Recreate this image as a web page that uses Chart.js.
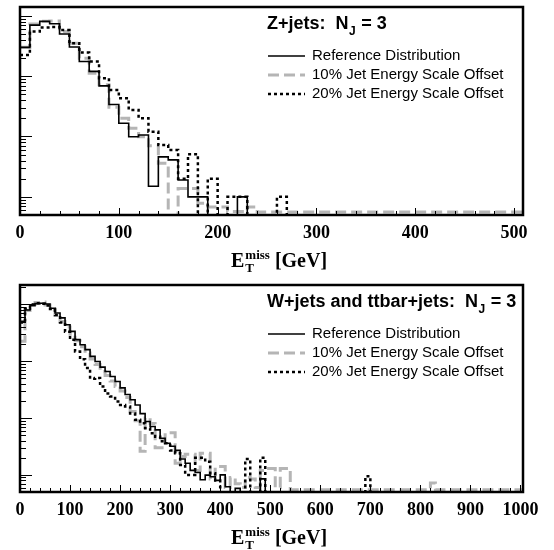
<!DOCTYPE html>
<html>
<head>
<meta charset="utf-8">
<script src="https://cdn.jsdelivr.net/npm/chart.js@4.4.0/dist/chart.umd.min.js"></script>
<style>
  body { margin: 0; background: #fff; width: 554px; height: 550px; overflow: hidden; }
  .panel { position: absolute; left: 0; width: 554px; }
</style>
</head>
<body>
<div class="panel" style="top:0;height:278px"><canvas id="zChart"></canvas></div>
<div class="panel" style="top:278px;height:272px"><canvas id="wChart"></canvas></div>
<script>
const binWidth = 10; // GeV
const zTicks = [0, 100, 200, 300, 400, 500];
const wTicks = [0, 100, 200, 300, 400, 500, 600, 700, 800, 900, 1000];
const legendLabels = ['Reference Distribution', '10% Jet Energy Scale Offset', '20% Jet Energy Scale Offset'];

// Z+jets, 10 GeV bins from 0 to 510
const zRef = [300, 700, 810, 740, 500, 305, 175, 120, 69, 34,
  16.6, 9.9, 10.6, 1.5, 4.6, 4.1, 1.9, 1.0, 1.0, 0,
  0, 0, 1.0, 0, 0, 0, 0, 0, 0, 0,
  0, 0, 0, 0, 0, 0, 0, 0, 0, 0,
  0, 0, 0, 0, 0, 0, 0, 0, 0, 0, 0];
const zJes10 = [300, 730, 810, 820, 550, 352, 198, 112, 72, 30.5,
  20, 13.7, 9.9, 7.0, 3.6, 0, 1.38, 1.38, 0.78, 0.68,
  0.68, 0.57, 0.57, 0.68, 0.56, 0.56, 0.56, 0.56, 0.56, 0.56,
  0.56, 0.56, 0.56, 0.56, 0.56, 0.56, 0.56, 0.56, 0.56, 0.56,
  0.56, 0.56, 0.56, 0.56, 0.56, 0.56, 0.56, 0.56, 0.56, 0.56, 0.56];
const zJes20 = [225, 550, 640, 650, 580, 352, 246, 175, 92, 59,
  43, 27.6, 20, 12, 7.2, 6.0, 2.0, 5.1, 0, 2.0,
  0, 1.0, 1.0, 0, 0, 0, 1.0, 0, 0, 0,
  0, 0, 0, 0, 0, 0, 0, 0, 0, 0,
  0, 0, 0, 0, 0, 0, 0, 0, 0, 0, 0];

// W+jets and ttbar+jets, 10 GeV bins from 0 to 1010
const wRef = [505, 800, 950, 1035, 1050, 1020, 860, 708, 580, 440,
  336, 240, 195, 160, 122, 99, 79, 66, 54, 44,
  34, 26, 21, 17, 12, 8.7, 7.1, 6.2, 4.4, 3.6,
  3.2, 2.7, 1.9, 1.6, 1.2, 1.1, 0.82, 0.99, 0.93, 0.8,
  1.0, 0.62, 0, 0.58, 0, 0, 0, 0, 0.85, 0,
  0, 0, 0, 0, 0, 0, 0, 0, 0, 0,
  0, 0, 0, 0, 0, 0, 0, 0, 0, 0,
  0, 0, 0, 0, 0, 0, 0, 0, 0, 0,
  0, 0, 0, 0, 0, 0, 0, 0, 0, 0,
  0, 0, 0, 0, 0, 0, 0, 0, 0, 0, 0];
const wJes10 = [224, 780, 1000, 1080, 1100, 980, 800, 640, 500, 400,
  300, 230, 180, 140, 110, 88, 66, 56, 45, 36,
  30, 23, 13, 9, 2.6, 10, 8, 3.0, 3.0, 5.5,
  5.5, 1.6, 2.1, 2.3, 2.3, 1.2, 2.4, 2.4, 0.85, 1.4,
  1.4, 0.6, 0.9, 0.7, 0.6, 0.9, 0.85, 0.6, 1.2, 1.3,
  1.3, 0.6, 1.3, 1.3, 0.55, 0.55, 0.55, 0.55, 0.55, 0.55,
  0.55, 0.55, 0.55, 0.55, 0.55, 0.55, 0.55, 0.55, 0.55, 0.55,
  0.55, 0.55, 0.55, 0.55, 0.55, 0.55, 0.55, 0.55, 0.55, 0.55,
  0.55, 0.55, 0.72, 0.55, 0.55, 0.55, 0.55, 0.55, 0.55, 0.55,
  0.55, 0.55, 0.55, 0.55, 0.55, 0.55, 0.55, 0.55, 0.55, 0.55, 0.55];
const wJes20 = [480, 850, 1000, 1050, 1030, 960, 830, 650, 480, 330,
  240, 149, 108, 76, 49, 51, 36, 27, 24, 19.6,
  17, 16, 12, 9.3, 8.1, 6.6, 5.4, 4.7, 3.9, 3.6,
  2.7, 2.4, 1.5, 1.0, 1.0, 2.0, 2.0, 1.7, 1.07, 0.8,
  0, 0, 0, 0, 0, 1.9, 0, 0, 2.0, 0,
  0, 0, 0, 0, 0, 0, 0, 0, 0, 0,
  0, 0, 0, 0, 0, 0, 0, 0, 0, 0.95,
  0, 0, 0, 0, 0, 0, 0, 0, 0, 0,
  0, 0, 0, 0, 0, 0, 0, 0, 0, 0,
  0, 0, 0, 0, 0, 0, 0, 0, 0, 0, 0];

const EMPTY = 0.01; // empty bins fall below the log axis floor

function steps(values) {
  const pts = values.map((v, i) => ({ x: i * binWidth, y: v > 0 ? v : EMPTY }));
  const last = values[values.length - 1];
  pts.push({ x: values.length * binWidth, y: last > 0 ? last : EMPTY });
  return pts;
}

const deco = {
  id: 'deco',
  afterDatasetsDraw(chart, args, opts) {
    const { ctx, chartArea: a, scales: { x, y } } = chart;
    ctx.save();
    ctx.strokeStyle = '#000';
    ctx.lineWidth = 1;
    ctx.beginPath();
    // log ticks on the left, inside the frame
    for (let d = -1; d <= 4; d++) {
      for (let m = 1; m <= 9; m++) {
        const v = m * Math.pow(10, d);
        if (v < y.min || v > y.max) continue;
        const py = Math.round(y.getPixelForValue(v)) + 0.5;
        ctx.moveTo(a.left, py);
        ctx.lineTo(a.left + (m === 1 ? 12 : 6), py);
      }
    }
    for (let v = 0; v <= x.max; v += 20) {
      const px = Math.round(x.getPixelForValue(v)) + 0.5;
      ctx.moveTo(px, a.bottom);
      ctx.lineTo(px, a.bottom - (v % 100 === 0 ? 7 : 4));
    }
    ctx.stroke();
    ctx.lineWidth = 2.5;
    ctx.strokeRect(a.left, a.top, a.right - a.left, a.bottom - a.top);

    // panel title with N_J subscript
    ctx.fillStyle = '#000';
    ctx.textBaseline = 'alphabetic';
    let tx = a.left + 247;
    const ty = a.top + 22;
    ctx.font = 'bold 18px "Liberation Sans"';
    ctx.fillText(opts.title, tx, ty);
    tx += ctx.measureText(opts.title).width;
    ctx.font = 'bold 12px "Liberation Sans"';
    ctx.fillText('J', tx + 0.5, ty + 6);
    tx += ctx.measureText('J').width + 1;
    ctx.font = 'bold 18px "Liberation Sans"';
    ctx.fillText(' = 3', tx, ty);

    // legend
    ctx.font = '15px "Liberation Sans"';
    ctx.textBaseline = 'middle';
    chart.data.datasets.forEach((ds, i) => {
      const ly = a.top + 49 + i * 19;
      ctx.save();
      ctx.strokeStyle = ds.borderColor;
      ctx.lineWidth = ds.borderWidth;
      ctx.setLineDash(ds.borderDash || []);
      ctx.beginPath();
      ctx.moveTo(a.left + 248, ly);
      ctx.lineTo(a.left + 285, ly);
      ctx.stroke();
      ctx.restore();
      ctx.fillText(ds.label, a.left + 292, ly);
    });

    // axis title: E_T^miss [GeV]
    ctx.textBaseline = 'alphabetic';
    const by = a.bottom + 52;
    let ax = 231;
    ctx.font = 'bold 20px "Liberation Serif"';
    ctx.fillText('E', ax, by);
    ax += ctx.measureText('E').width + 1;
    ctx.font = 'bold 13px "Liberation Serif"';
    ctx.fillText('miss', ax, by - 8);
    ctx.fillText('T', ax, by + 5);
    ax += ctx.measureText('miss').width + 5;
    ctx.font = 'bold 20px "Liberation Serif"';
    ctx.fillText('[GeV]', ax, by);
    ctx.restore();
  }
};

function makeChart(id, series, xMax, yMax, ticks, title, axisHeight) {
  return new Chart(document.getElementById(id), {
    type: 'line',
    data: {
      datasets: [
        { label: legendLabels[0], data: steps(series[0]), borderColor: '#000', borderWidth: 1.6, order: 1 },
        { label: legendLabels[1], data: steps(series[1]), borderColor: '#b5b5b5', borderWidth: 3, borderDash: [11, 5], order: 3 },
        { label: legendLabels[2], data: steps(series[2]), borderColor: '#000', borderWidth: 2.5, borderDash: [3, 3], order: 2 }
      ]
    },
    options: {
      responsive: true,
      maintainAspectRatio: false,
      animation: false,
      elements: { point: { radius: 0 }, line: { stepped: 'before', tension: 0, fill: false } },
      layout: { padding: { left: 20, right: 31, top: 7, bottom: 0 } },
      scales: {
        x: {
          type: 'linear', min: 0, max: xMax,
          grid: { display: false, drawTicks: false },
          border: { display: false },
          ticks: { color: '#000', padding: 8, maxRotation: 0, autoSkip: false,
                   font: { family: '"Liberation Serif"', size: 18, weight: 'bold' },
                   callback: v => String(v) },
          afterBuildTicks: s => { s.ticks = ticks.map(v => ({ value: v })); },
          afterFit: s => { s.height = axisHeight; }
        },
        y: { type: 'logarithmic', display: false, min: 0.5, max: yMax }
      },
      plugins: { legend: { display: false }, tooltip: { enabled: false }, deco: { title } }
    },
    plugins: [deco]
  });
}

makeChart('zChart', [zRef, zJes10, zJes20], 509, 1400, zTicks, 'Z+jets:  N', 63);
makeChart('wChart', [wRef, wJes10, wJes20], 1005, 2200, wTicks, 'W+jets and ttbar+jets:  N', 58);
</script>
</body>
</html>
